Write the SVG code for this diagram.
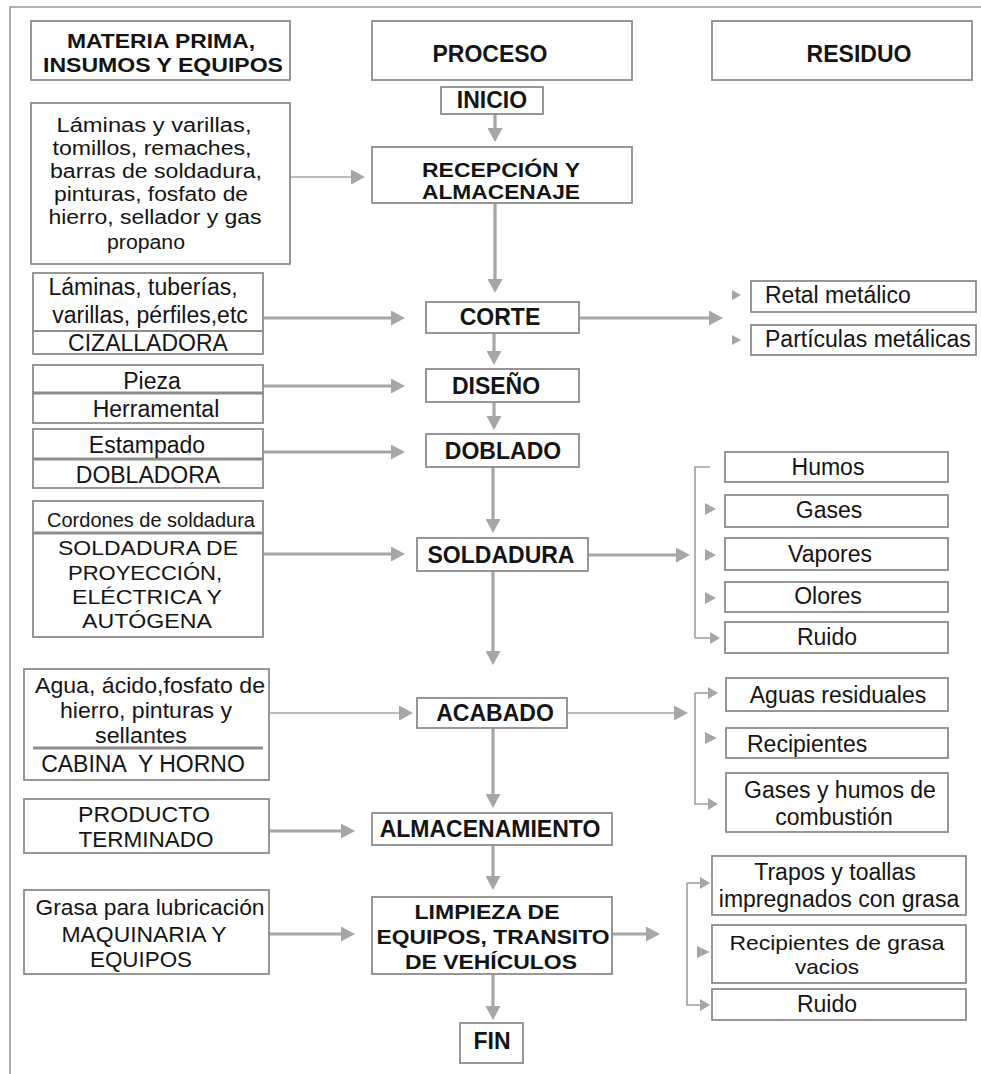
<svg xmlns="http://www.w3.org/2000/svg" width="981" height="1074" viewBox="0 0 981 1074">
<style>
.bx{fill:#fff;stroke:#8c8c8c;stroke-width:1.8}
.dv{stroke:#8c8c8c;stroke-width:1.8}
.dvt{stroke:#8c8c8c;stroke-width:3}
.t{font-family:"Liberation Sans",Arial,sans-serif;font-size:23px;fill:#141414;text-anchor:middle}
.b{font-weight:bold}
.s{text-anchor:start}
.f20{font-size:20px}
.f21{font-size:21px}
.f22{font-size:22px}
.a{fill:none;stroke:#a6a6a6;stroke-width:3.2}
.at{fill:none;stroke:#a6a6a6;stroke-width:1.6}
.br{fill:none;stroke:#a0a0a0;stroke-width:1.6}
.tri{fill:#a6a6a6}
.fr{fill:none;stroke:#9a9a9a;stroke-width:1.6}
</style>
<defs>
<marker id="ah" markerUnits="userSpaceOnUse" markerWidth="14" markerHeight="15" viewBox="0 0 14 15" refX="4" refY="7.5" orient="auto"><path d="M0,0 L14,7.5 L0,15 z" fill="#a6a6a6"/></marker>
<marker id="sm" markerUnits="userSpaceOnUse" markerWidth="10" markerHeight="12" viewBox="0 0 10 12" refX="3" refY="6" orient="auto"><path d="M0,0 L10,6 L0,12 z" fill="#a6a6a6"/></marker>
</defs>
<rect width="981" height="1074" fill="#fff"/>
<path class="fr" d="M10 1074 V7 H981"/>

<g id="connectors">
<path class="a" marker-end="url(#ah)" d="M495 114 V132"/>
<path class="a" marker-end="url(#ah)" d="M495 203 V283"/>
<path class="a" marker-end="url(#ah)" d="M494 333 V355"/>
<path class="a" marker-end="url(#ah)" d="M494 402 V420"/>
<path class="a" marker-end="url(#ah)" d="M493 467 V523"/>
<path class="a" marker-end="url(#ah)" d="M493 571 V655"/>
<path class="a" marker-end="url(#ah)" d="M493 728 V798"/>
<path class="a" marker-end="url(#ah)" d="M493 845 V880"/>
<path class="a" marker-end="url(#ah)" d="M493 974 V1010"/>
<path class="at" marker-end="url(#ah)" d="M290 177 H355"/>
<path class="a" marker-end="url(#ah)" d="M263 318 H395"/>
<path class="a" marker-end="url(#ah)" d="M263 386 H395"/>
<path class="a" marker-end="url(#ah)" d="M263 452 H395"/>
<path class="a" marker-end="url(#ah)" d="M263 554 H395"/>
<path class="at" marker-end="url(#ah)" d="M269 713 H403"/>
<path class="a" marker-end="url(#ah)" d="M269 831 H345"/>
<path class="a" marker-end="url(#ah)" d="M269 934 H345"/>
<path class="a" marker-end="url(#ah)" d="M579 318 H713"/>
<path class="a" marker-end="url(#ah)" d="M588 555 H680"/>
<path class="at" marker-end="url(#ah)" d="M567 713 H678"/>
<path class="a" marker-end="url(#ah)" d="M612 934 H650"/>
<path class="tri" d="M732 290 L741 295 L732 300 z M732 335 L741 340 L732 345 z"/>
<path class="br" d="M710 467 H695 V638"/>
<path class="br" marker-end="url(#sm)" d="M695 638 H713"/>
<path class="tri" d="M705 503 L716 509 L705 515 z M705 549 L716 555 L705 561 z M705 592 L716 598 L705 604 z"/>
<path class="br" marker-end="url(#sm)" d="M695 693 H711"/>
<path class="br" marker-end="url(#sm)" d="M695 693 V804 H711"/>
<path class="tri" d="M705 732 L717 738 L705 744 z"/>
<path class="br" marker-end="url(#sm)" d="M687 883 H703"/>
<path class="br" marker-end="url(#sm)" d="M687 883 V1005 H703"/>
<path class="tri" d="M697 946 L710 952 L697 958 z"/>
</g>

<g id="hdr-materia"><rect class="bx" x="31" y="21" width="259" height="59"/>
<text class="t b f21" x="161" y="48" textLength="188" lengthAdjust="spacingAndGlyphs">MATERIA PRIMA,</text><text class="t b f21" x="163" y="72" textLength="240" lengthAdjust="spacingAndGlyphs">INSUMOS Y EQUIPOS</text></g>
<g id="hdr-proceso"><rect class="bx" x="372" y="21" width="260" height="59"/><text class="t b" x="490" y="62">PROCESO</text></g>
<g id="hdr-residuo"><rect class="bx" x="712" y="21" width="260" height="59"/><text class="t b" x="859" y="62">RESIDUO</text></g>

<g id="inicio"><rect class="bx" x="441" y="87" width="102" height="27"/><text class="t b" x="492" y="108">INICIO</text></g>
<g id="recepcion"><rect class="bx" x="372" y="147" width="260" height="56"/>
<text class="t b f20" x="501" y="177" textLength="158" lengthAdjust="spacingAndGlyphs">RECEPCIÓN Y</text><text class="t b f20" x="501" y="199" textLength="158" lengthAdjust="spacingAndGlyphs">ALMACENAJE</text></g>
<g id="corte"><rect class="bx" x="426" y="302" width="153" height="31"/><text class="t b" x="500" y="325">CORTE</text></g>
<g id="diseno"><rect class="bx" x="426" y="369" width="153" height="33"/><text class="t b" x="496" y="394">DISEÑO</text></g>
<g id="doblado"><rect class="bx" x="426" y="434" width="153" height="33"/><text class="t b" x="503" y="459">DOBLADO</text></g>
<g id="soldadura"><rect class="bx" x="417" y="538" width="171" height="33"/><text class="t b" x="501" y="563">SOLDADURA</text></g>
<g id="acabado"><rect class="bx" x="417" y="698" width="150" height="30"/><text class="t b" x="495" y="721">ACABADO</text></g>
<g id="almacenamiento"><rect class="bx" x="372" y="813" width="240" height="32"/><text class="t b" x="490" y="837">ALMACENAMIENTO</text></g>
<g id="limpieza"><rect class="bx" x="372" y="897" width="240" height="77"/>
<text class="t b f21" x="487" y="919" textLength="145" lengthAdjust="spacingAndGlyphs">LIMPIEZA DE</text><text class="t b f21" x="493" y="944" textLength="233" lengthAdjust="spacingAndGlyphs">EQUIPOS, TRANSITO</text><text class="t b f21" x="491" y="969" textLength="172" lengthAdjust="spacingAndGlyphs">DE VEHÍCULOS</text></g>
<g id="fin"><rect class="bx" x="460" y="1023" width="63" height="40"/><text class="t b" x="492" y="1049">FIN</text></g>

<g id="in-recepcion"><rect class="bx" x="31" y="103" width="259" height="161"/>
<text class="t f20" x="154" y="132" textLength="195" lengthAdjust="spacingAndGlyphs">Láminas y varillas,</text>
<text class="t f20" x="152" y="155" textLength="199" lengthAdjust="spacingAndGlyphs">tomillos, remaches,</text>
<text class="t f20" x="156" y="178" textLength="212" lengthAdjust="spacingAndGlyphs">barras de soldadura,</text>
<text class="t f20" x="151" y="201" textLength="194" lengthAdjust="spacingAndGlyphs">pinturas, fosfato de</text>
<text class="t f20" x="155" y="224" textLength="213" lengthAdjust="spacingAndGlyphs">hierro, sellador y gas</text>
<text class="t f20" x="146" y="249" textLength="78" lengthAdjust="spacingAndGlyphs">propano</text></g>
<g id="in-corte"><rect class="bx" x="33" y="273" width="230" height="81"/><line class="dv" x1="33" y1="331" x2="263" y2="331"/>
<text class="t" x="143" y="295">Láminas, tuberías,</text>
<text class="t" x="150" y="323">varillas, pérfiles,etc</text>
<text class="t" x="148" y="351">CIZALLADORA</text></g>
<g id="in-diseno"><rect class="bx" x="33" y="365" width="230" height="58"/><line class="dvt" x1="33" y1="393" x2="263" y2="393"/>
<text class="t" x="152" y="389">Pieza</text>
<text class="t" x="156" y="417">Herramental</text></g>
<g id="in-doblado"><rect class="bx" x="33" y="429" width="230" height="59"/><line class="dvt" x1="33" y1="459" x2="263" y2="459"/>
<text class="t" x="147" y="453">Estampado</text>
<text class="t" x="148" y="483">DOBLADORA</text></g>
<g id="in-soldadura"><rect class="bx" x="33" y="501" width="230" height="136"/><line class="dvt" x1="33" y1="533" x2="263" y2="533"/>
<text class="t f20" x="151" y="527">Cordones de soldadura</text>
<text class="t f21" x="148" y="555" textLength="180" lengthAdjust="spacingAndGlyphs">SOLDADURA DE</text>
<text class="t f21" x="145" y="580" textLength="154" lengthAdjust="spacingAndGlyphs">PROYECCIÓN,</text>
<text class="t f21" x="147" y="604" textLength="150" lengthAdjust="spacingAndGlyphs">ELÉCTRICA Y</text>
<text class="t f21" x="147" y="628" textLength="130" lengthAdjust="spacingAndGlyphs">AUTÓGENA</text></g>
<g id="in-acabado"><rect class="bx" x="24" y="669" width="245" height="111"/><line class="dvt" x1="33" y1="748" x2="263" y2="748"/>
<text class="t f22" x="150" y="693" textLength="230" lengthAdjust="spacingAndGlyphs">Agua, ácido,fosfato de</text>
<text class="t f22" x="146" y="718" textLength="172" lengthAdjust="spacingAndGlyphs">hierro, pinturas y</text>
<text class="t f22" x="141" y="743" textLength="92" lengthAdjust="spacingAndGlyphs">sellantes</text>
<text class="t" x="143" y="772" style="white-space:pre">CABINA  Y HORNO</text></g>
<g id="in-almacen"><rect class="bx" x="24" y="799" width="245" height="54"/>
<text class="t f22" x="144" y="822" textLength="132" lengthAdjust="spacingAndGlyphs">PRODUCTO</text>
<text class="t f22" x="146" y="847" textLength="135" lengthAdjust="spacingAndGlyphs">TERMINADO</text></g>
<g id="in-limpieza"><rect class="bx" x="24" y="890" width="245" height="84"/>
<text class="t f22" x="150" y="915" textLength="229" lengthAdjust="spacingAndGlyphs">Grasa para lubricación</text>
<text class="t f22" x="144" y="942" textLength="165" lengthAdjust="spacingAndGlyphs">MAQUINARIA Y</text>
<text class="t f22" x="141" y="967" textLength="102" lengthAdjust="spacingAndGlyphs">EQUIPOS</text></g>

<g id="out-retal"><rect class="bx" x="751" y="281" width="225" height="31"/><text class="t s" x="765" y="303">Retal metálico</text></g>
<g id="out-particulas"><rect class="bx" x="751" y="325" width="225" height="30"/><text class="t s" x="765" y="347">Partículas metálicas</text></g>
<g id="out-humos"><rect class="bx" x="725" y="452" width="223" height="30"/><text class="t" x="828" y="475">Humos</text></g>
<g id="out-gases"><rect class="bx" x="725" y="495" width="223" height="32"/><text class="t" x="829" y="518">Gases</text></g>
<g id="out-vapores"><rect class="bx" x="725" y="538" width="223" height="32"/><text class="t" x="830" y="562">Vapores</text></g>
<g id="out-olores"><rect class="bx" x="725" y="582" width="223" height="30"/><text class="t" x="828" y="604">Olores</text></g>
<g id="out-ruido1"><rect class="bx" x="725" y="622" width="223" height="31"/><text class="t" x="827" y="645">Ruido</text></g>
<g id="out-aguas"><rect class="bx" x="726" y="678" width="222" height="33"/><text class="t" x="838" y="703">Aguas residuales</text></g>
<g id="out-recipientes"><rect class="bx" x="726" y="728" width="222" height="30"/><text class="t s" x="747" y="752">Recipientes</text></g>
<g id="out-gaseshumos"><rect class="bx" x="726" y="773" width="222" height="59"/>
<text class="t" x="840" y="798">Gases y humos de</text><text class="t" x="834" y="825">combustión</text></g>
<g id="out-trapos"><rect class="bx" x="712" y="856" width="254" height="59"/>
<text class="t" x="835" y="880">Trapos y toallas</text><text class="t" x="839" y="907">impregnados con grasa</text></g>
<g id="out-recgrasa"><rect class="bx" x="712" y="925" width="254" height="58"/>
<text class="t f21" x="837" y="950" textLength="215" lengthAdjust="spacingAndGlyphs">Recipientes de grasa</text><text class="t f21" x="827" y="974" textLength="64" lengthAdjust="spacingAndGlyphs">vacios</text></g>
<g id="out-ruido2"><rect class="bx" x="712" y="989" width="254" height="31"/><text class="t" x="827" y="1012">Ruido</text></g>
</svg>
